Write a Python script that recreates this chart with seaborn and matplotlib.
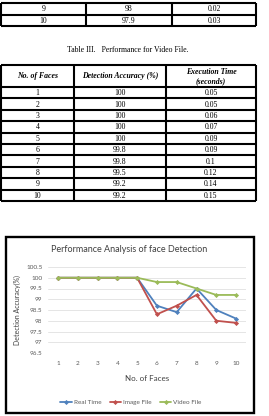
import matplotlib
matplotlib.use("Agg")
import matplotlib.pyplot as plt
import pandas as pd
import seaborn as sns
from matplotlib.patches import Rectangle

W, H = 269, 416

# rows of the previous table visible at the top of the page
prev_faces = ["9", "10"]
prev_acc = ["98", "97.9"]
prev_time = ["0.02", "0.03"]

table_caption = "Table III.   Performance for Video File."
table_headers = ["No. of Faces", "Detection Accuracy (%)", "Execution Time\n(seconds)"]
table_faces = ["1", "2", "3", "4", "5", "6", "7", "8", "9", "10"]
table_acc = ["100", "100", "100", "100", "100", "99.8", "99.8", "99.5", "99.2", "99.2"]
table_time = ["0.05", "0.05", "0.06", "0.07", "0.09", "0.09", "0.1", "0.12", "0.14", "0.15"]

faces = [1, 2, 3, 4, 5, 6, 7, 8, 9, 10]
real_time = [100, 100, 100, 100, 100, 98.7, 98.4, 99.5, 98.5, 98.1]
image_file = [100, 100, 100, 100, 100, 98.3, 98.7, 99.2, 98.0, 97.9]
video_file = [100, 100, 100, 100, 100, 99.8, 99.8, 99.5, 99.2, 99.2]
series_names = ["Real Time", "Image File", "Video File"]
series_colors = ["#4F81BD", "#C0504D", "#9BBB59"]
y_ticks = [96.5, 97, 97.5, 98, 98.5, 99, 99.5, 100, 100.5]

SERIF = ["Liberation Serif", "DejaVu Serif"]
SANS = ["Lato", "DejaVu Sans"]


def draw_grid(ax, xs, ys, rows, header=None):
    # table borders in pixel coordinates
    for x in xs:
        ax.plot([x, x], [ys[0], ys[-1]], color="black", lw=1.5, solid_capstyle="butt")
    for y in ys:
        ax.plot([xs[0], xs[-1]], [y, y], color="black", lw=1.5, solid_capstyle="butt")
    for r, row in enumerate(rows):
        yc = (ys[r] + ys[r + 1]) / 2
        for c, val in enumerate(row):
            xc = (xs[c] + xs[c + 1]) / 2
            bold = header is not None and r == 0
            ax.text(xc, yc + 0.5, val, ha="center", va="center", fontsize=5.6,
                    family=SERIF, fontweight="bold" if bold else "normal",
                    fontstyle="italic" if bold else "normal", linespacing=1.1)


fig = plt.figure(figsize=(W / 100, H / 100), dpi=100)
page = fig.add_axes([0, 0, 1, 1])
page.set_xlim(0, W)
page.set_ylim(H, 0)
page.axis("off")

# previous table fragment
draw_grid(page, [1, 86, 172, 256], [3, 14.5, 26],
          [list(r) for r in zip(prev_faces, prev_acc, prev_time)])

page.text(128, 50, table_caption, ha="center", va="center", fontsize=5.6, family=SERIF)

row_h = (201 - 87) / len(table_faces)
ys = [65, 87] + [87 + row_h * (i + 1) for i in range(len(table_faces))]
rows = [table_headers] + [list(r) for r in zip(table_faces, table_acc, table_time)]
draw_grid(page, [1, 74, 166, 256], ys, rows, header=True)

# chart frame
page.add_patch(Rectangle((6, 237), 248, 176, fill=False, edgecolor="black", lw=1.7))
page.text(129, 250, "Performance Analysis of face Detection", ha="center", va="center",
          fontsize=6.5, family=SANS, color="#404040")

df = pd.DataFrame({
    "faces": faces * 3,
    "accuracy": real_time + image_file + video_file,
    "series": [s for s in series_names for _ in faces],
})

sns.set_style("white")
plt.rcParams["font.family"] = SANS

ax = fig.add_axes([48 / W, 1 - 353 / H, 198 / W, 86 / H])
sns.lineplot(data=df, x="faces", y="accuracy", hue="series", hue_order=series_names,
             palette=series_colors, marker="D", markersize=2.6, markeredgewidth=0,
             linewidth=1.3, ax=ax)

ax.set_xlim(0.5, 10.5)
ax.set_ylim(96.5, 100.5)
ax.set_yticks(y_ticks)
ax.set_yticklabels([f"{v:g}" for v in y_ticks])
ax.set_xticks(faces)
ax.yaxis.grid(True, color="#E0E0E0", lw=0.6)
ax.set_axisbelow(True)
for s in ax.spines.values():
    s.set_visible(False)
ax.tick_params(axis="both", length=0, labelsize=4.6, colors="#595959")
ax.tick_params(axis="x", pad=6)
ax.tick_params(axis="y", pad=4)
ax.set_xlabel("No. of Faces", fontsize=5.8, color="#404040", labelpad=6)
ax.set_ylabel("Detection Accuracy(%)", fontsize=5.0, color="#404040", labelpad=4)

leg = ax.legend(loc="center", bbox_to_anchor=(131 / W, 1 - 402 / H),
                bbox_transform=fig.transFigure, ncol=3, frameon=False,
                fontsize=4.6, handlelength=1.8, columnspacing=1.3, handletextpad=0.3)
for t in leg.get_texts():
    t.set_color("#595959")

fig.savefig("out.png", dpi=100)
